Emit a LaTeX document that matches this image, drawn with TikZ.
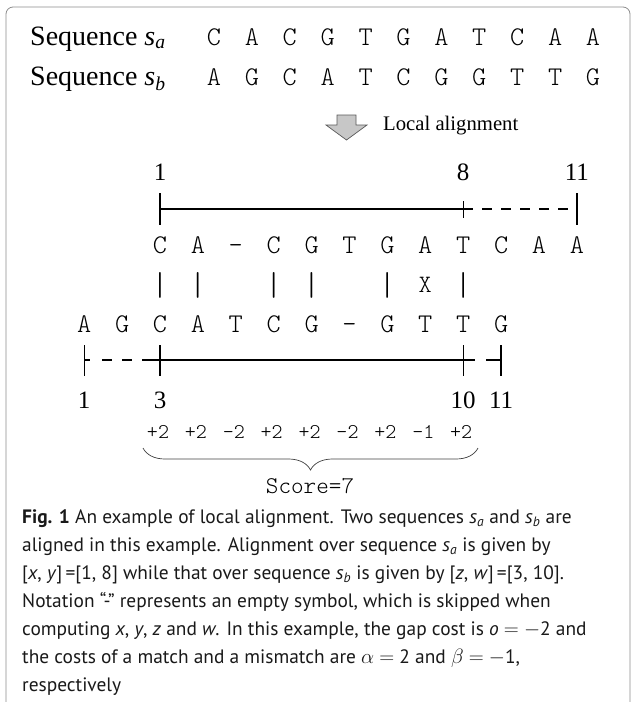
\documentclass[tikz,border=0pt]{standalone}
\usepackage{fontspec}
\setmainfont{PT Sans}
\setmonofont{Latin Modern Mono Light}
\newfontfamily\timesfont{Liberation Serif}
\usetikzlibrary{positioning}
\usetikzlibrary{decorations.pathreplacing}

\tikzset{
  frame/.style={draw=black!45,line width=0.8pt,rounded corners=7pt},
  seqname/.style={font=\timesfont\fontsize{28}{32}\selectfont,anchor=base west,inner sep=0pt},
  letter/.style={font=\ttfamily\fontsize{27}{30}\selectfont,anchor=base,inner sep=0pt},
  matchsym/.style={font=\ttfamily\fontsize{25}{28}\selectfont,anchor=base,inner sep=0pt},
  posnum/.style={font=\timesfont\fontsize{25}{30}\selectfont,anchor=base,inner sep=0pt},
  note/.style={font=\timesfont\fontsize{20.7}{24}\selectfont,anchor=base west,inner sep=0pt},
  score/.style={font=\ttfamily\fontsize{21}{24}\selectfont,anchor=base,inner sep=0pt},
  ruler/.style={line width=1.3pt},
  tick/.style={line width=1.3pt},
  gapline/.style={line width=1.3pt,dash pattern=on 10pt off 9pt},
  bigarrow/.style={fill=black!22,draw=black!65,line width=0.7pt},
  scorebrace/.style={decorate,decoration={brace,mirror,amplitude=22pt},draw=black!75,line width=0.7pt},
  caption/.style={font=\fontsize{19.4}{28}\selectfont,align=left,anchor=north west,inner sep=0pt,text=black!90}
}

\begin{document}
\begin{tikzpicture}[x=1pt,y=-1pt]
\useasboundingbox (0,0) rectangle (631,702);
\draw[frame] (6,704) -- (6,7) -- (630,7) -- (630,704);

% the two input sequences
\node[seqname] (namea) at (30,45) {Sequence \textit{s}\textsubscript{\textit{a}}};
\node[seqname] (nameb) at (30,85) {Sequence \textit{s}\textsubscript{\textit{b}}};
\foreach \ch [count=\k] in {C,A,C,G,T,G,A,T,C,A,A}
  \node[letter] (ina\k) at ({214+37.9*(\k-1)},45) {\ch};
\foreach \ch [count=\k] in {A,G,C,A,T,C,G,G,T,T,G}
  \node[letter] (inb\k) at ({214+37.9*(\k-1)},85) {\ch};

\draw[bigarrow] (337,115) -- (356,115) -- (356,125) -- (367,125) -- (346.5,140)
  -- (326,125) -- (337,125) -- cycle;
\node[note] (step) at (383,130) {Local alignment};

% aligned sequences
\foreach \ch [count=\k] in {C,A,-,C,G,T,G,A,T,C,A,A}
  \node[letter] (a\k) at ({160+37.9*(\k-1)},253) {\ch};
\foreach \ch [count=\k] in {A,G,C,A,T,C,G,-,G,T,T,G}
  \node[letter] (b\k) at ({160+37.9*(\k-3)},332) {\ch};
\foreach \k in {1,2,4,5,7,9}
  \node[matchsym,font=\ttfamily\fontsize{33}{36}\selectfont] (m\k) at ({160+37.9*(\k-1)},295) {|};
\node[matchsym] (m8) at ({160+37.9*7},292) {X};

% range on s_a
\coordinate (ra1) at (a1 |- 0,209);
\coordinate (ra8) at (a9 |- 0,209);
\coordinate (ra11) at (a12 |- 0,209);
\draw[ruler] (ra1) -- (ra8);
\draw[gapline] (ra8) -- (ra11);
\draw[tick] (ra1) ++(0,-16) -- ++(0,32);
\draw[tick] (ra8) ++(0,-8) -- ++(0,17);
\draw[tick] (ra11) ++(0,-16) -- ++(0,32);
\node[posnum] (na1) at (ra1 |- 0,180) {1};
\node[posnum] (na8) at (ra8 |- 0,180) {8};
\node[posnum] (na11) at (ra11 |- 0,180) {11};

% range on s_b
\coordinate (rb1) at (b1 |- 0,360);
\coordinate (rb3) at (b3 |- 0,360);
\coordinate (rb10) at (b11 |- 0,360);
\coordinate (rb11) at (b12 |- 0,360);
\draw[gapline,dash pattern=on 6pt off 12pt on 10pt off 10pt on 10pt off 10pt on 18pt] (rb1) -- (rb3);
\draw[ruler] (rb3) -- (rb10);
\draw[gapline,dash pattern=on 12pt off 11pt on 15pt] (rb10) -- (rb11);
\foreach \p in {rb1,rb3,rb10,rb11}
  \draw[tick] (\p) ++(0,-15) -- ++(0,31);
\node[posnum] (nb1) at (rb1 |- 0,408) {1};
\node[posnum] (nb3) at (rb3 |- 0,408) {3};
\node[posnum] (nb10) at (rb10 |- 0,408) {10};
\node[posnum] (nb11) at (rb11 |- 0,408) {11};

% scores
\foreach \s [count=\k] in {+2,+2,-2,+2,+2,-2,+2,-1,+2}
  \node[score] (sc\k) at ({158+37.9*(\k-1)},438) {\s};
\coordinate (bl) at (143,448);
\coordinate (br) at (478,448);
\draw[scorebrace] (bl) -- (br);
\node[score,font=\ttfamily\fontsize{24}{28}\selectfont] (total) at (310,493) {Score=7};

\node[caption] (cap) at (22,509) {\textbf{Fig. 1} An example of local alignment. Two sequences \textit{s}\textsubscript{\textit{a}} and \textit{s}\textsubscript{\textit{b}} are\\
aligned in this example. Alignment over sequence \textit{s}\textsubscript{\textit{a}} is given by\\
{[}\textit{x}, \textit{y}]\,=[1, 8] while that over sequence \textit{s}\textsubscript{\textit{b}} is given by [\textit{z}, \textit{w}]\,=[3, 10].\\
Notation “-” represents an empty symbol, which is skipped when\\
computing \textit{x}, \textit{y}, \textit{z} and \textit{w}. In this example, the gap cost is \textit{o} $=$ $-$2 and\\
the costs of a match and a mismatch are $\alpha$ $=$ 2 and $\beta$ $=$ $-$1,\\
respectively};
\end{tikzpicture}
\end{document}
